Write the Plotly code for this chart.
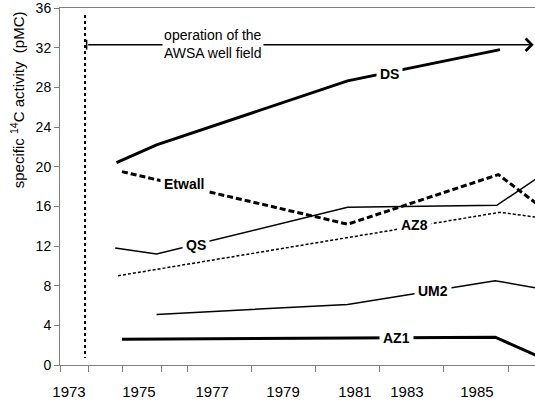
import plotly.graph_objects as go

# Specific 14C activity (pMC) of the observation wells, by sampling year
ds_years = [1973.8, 1975.05, 1981.0, 1985.75]
ds_pmc = [20.4, 22.2, 28.65, 31.8]

etwall_years = [1973.97, 1981.0, 1985.7, 1987.0]
etwall_pmc = [19.5, 14.2, 19.2, 16.0]

qs_years = [1973.76, 1975.05, 1981.0, 1985.65, 1987.0]
qs_pmc = [11.8, 11.2, 15.9, 16.1, 19.05]

az8_years = [1973.85, 1981.0, 1985.75, 1987.0]
az8_pmc = [9.0, 12.8, 15.4, 14.85]

um2_years = [1975.05, 1981.0, 1985.6, 1987.0]
um2_pmc = [5.1, 6.1, 8.5, 7.7]

az1_years = [1973.97, 1981.0, 1985.6, 1987.0]
az1_pmc = [2.6, 2.7, 2.8, 0.8]

# start of pumping at the well field and the level of the period arrow
field_start = 1972.82
field_line_top = 35.3
field_line_bottom = 0.7
arrow_level = 32.3
arrow_end = 1986.8

# axis layout
x_range = [1972.04, 1986.84]
y_range = [0, 36]
y_ticks = [0, 4, 8, 12, 16, 20, 24, 28, 32, 36]
x_tick_marks = [1972.07, 1972.92, 1974.0, 1975.19, 1976, 1978, 1980, 1982, 1984, 1986]
year_labels = ["1973", "1975", "1977", "1979", "1981", "1983", "1985"]
year_label_pos = [1972.32, 1974.5, 1976.78, 1978.99, 1981.23, 1982.85, 1985.03]

# in-line well names
well_names = ["DS", "Etwall", "QS", "AZ8", "UM2", "AZ1"]
well_label_x = [1982.32, 1975.91, 1976.28, 1983.10, 1983.66, 1982.54]
well_label_y = [29.3, 18.3, 12.1, 14.1, 7.5, 2.7]

FONT = "Liberation Sans, Arial, sans-serif"
AXIS_GREY = "#808080"

series = [
    (ds_years, ds_pmc, dict(color="black", width=3)),
    (etwall_years, etwall_pmc, dict(color="black", width=3, dash="6px,3px")),
    (qs_years, qs_pmc, dict(color="black", width=1.5)),
    (az8_years, az8_pmc, dict(color="black", width=1.5, dash="3px,2px")),
    (um2_years, um2_pmc, dict(color="black", width=1.5)),
    (az1_years, az1_pmc, dict(color="black", width=3)),
]

fig = go.Figure()
for xs, ys, line in series:
    fig.add_trace(go.Scatter(x=xs, y=ys, mode="lines", line=line,
                             hoverinfo="skip", showlegend=False))

# vertical marker for the start of well-field operation
fig.add_trace(go.Scatter(x=[field_start, field_start], y=[field_line_top, field_line_bottom],
                         mode="lines", line=dict(color="black", width=2, dash="3px,3px"),
                         xaxis="x2", hoverinfo="skip", showlegend=False))
# small bar at the start of the period arrow
fig.add_trace(go.Scatter(x=[field_start + 0.05], y=[arrow_level], mode="markers",
                         marker=dict(symbol="line-ns", size=7,
                                     line=dict(color="black", width=1.5)),
                         xaxis="x2", hoverinfo="skip", showlegend=False))

annotations = [
    dict(x=arrow_end, y=arrow_level, ax=field_start + 0.05, ay=arrow_level,
         xref="x", yref="y", axref="x", ayref="y", text="", showarrow=True,
         arrowhead=4, arrowsize=1.6, arrowwidth=1.5, arrowcolor="black"),
    dict(x=1976.81, y=32.4, xref="x", yref="y", text="operation of the<br>AWSA well field",
         showarrow=False, bgcolor="white", borderpad=1,
         font=dict(family=FONT, size=14, color="black")),
    dict(x=-0.0905, y=26.7, xref="paper", yref="y", xanchor="center", yanchor="middle",
         text="specific <sup>14</sup>C activity\u00a0\u00a0(pMC)", textangle=-90,
         showarrow=False, font=dict(family=FONT, size=15, color="black")),
]
for name, lx, ly in zip(well_names, well_label_x, well_label_y):
    annotations.append(dict(x=lx, y=ly, xref="x", yref="y", text=f"<b>{name}</b>",
                            showarrow=False, bgcolor="white", borderpad=3,
                            font=dict(family=FONT, size=14, color="black")))

fig.update_layout(
    width=535, height=400,
    margin=dict(l=60, r=0, t=8, b=35),
    paper_bgcolor="white", plot_bgcolor="white",
    font=dict(family=FONT, color="black"),
    xaxis=dict(range=x_range, tickmode="array", tickvals=year_label_pos,
               ticktext=year_labels, ticks="", showgrid=False, zeroline=False,
               showline=True, linecolor=AXIS_GREY, linewidth=1, mirror=True,
               tickfont=dict(family=FONT, size=15, color="black"),
               ticklabelstandoff=13),
    xaxis2=dict(range=x_range, overlaying="x", anchor="y", side="bottom",
                tickmode="array", tickvals=x_tick_marks, ticks="outside",
                ticklen=6, tickcolor=AXIS_GREY, tickwidth=1,
                showticklabels=False, showgrid=False, zeroline=False, showline=False),
    yaxis=dict(range=y_range, tickmode="array", tickvals=y_ticks, ticks="outside",
               ticklen=5, tickcolor=AXIS_GREY, showgrid=False, zeroline=False,
               showline=True, linecolor=AXIS_GREY, linewidth=1,
               ticklabeloverflow="allow",
               tickfont=dict(family=FONT, size=14, color="black")),
    annotations=annotations,
)

fig.write_html("out.html")
